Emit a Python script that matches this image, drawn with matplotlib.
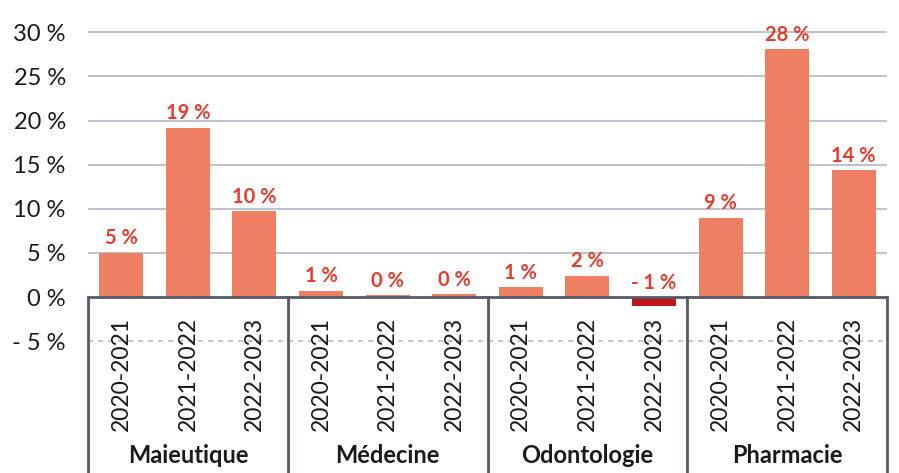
import matplotlib
matplotlib.use("Agg")
import matplotlib.pyplot as plt
import numpy as np

plt.rcParams['font.family'] = ['Lato', 'DejaVu Sans']

groups = ["Maieutique", "Médecine", "Odontologie", "Pharmacie"]
years = ["2020-2021", "2021-2022", "2022-2023"]
values = [5.0, 19.2, 9.7,
          0.7, 0.2, 0.3,
          1.1, 2.4, -1.0,
          9.0, 28.1, 14.4]
labels = ["5 %", "19 %", "10 %",
          "1 %", "0 %", "0 %",
          "1 %", "2 %", "- 1 %",
          "9 %", "28 %", "14 %"]
yticks = [-5, 0, 5, 10, 15, 20, 25, 30]
ytick_labels = ["- 5 %", "0 %", "5 %", "10 %", "15 %", "20 %", "25 %", "30 %"]

pos_color = "#ef7f63"
neg_color = "#c0161b"
lab_color = "#e63c2e"
grid_color = "#b9bdcb"
axis_color = "#545a68"

fig = plt.figure(figsize=(8.99, 4.73), dpi=100)
ax = fig.add_axes([88/899, 0, 799/899, 1])
ymin, ymax = -19.95, 33.67
ax.set_ylim(ymin, ymax)
n = len(values)
ax.set_xlim(-0.5, n - 0.5)

for t in yticks:
    if t > 0:
        ax.axhline(t, color=grid_color, lw=1.3, zorder=1)
    elif t < 0:
        ax.axhline(t, color=grid_color, lw=1.2, ls=(0, (3, 3)), zorder=1)

x = np.arange(n)
colors = [pos_color if v >= 0 else neg_color for v in values]
ax.bar(x, values, width=0.66, color=colors, zorder=2)

for xi, v, lab in zip(x, values, labels):
    ax.text(xi, max(v, 0) + 0.5, lab, ha='center', va='bottom', color=lab_color,
            fontsize=14.5, fontweight='bold', zorder=3)

ax.axhline(0, color=axis_color, lw=2, zorder=4)
span = ymax - ymin
for k in range(len(groups) + 1):
    ax.axvline(k * 3 - 0.5, ymin=0, ymax=(0 - ymin) / span, color=axis_color, lw=2, zorder=4, clip_on=False)

for i in range(n):
    ax.text(x[i], -2.3, years[i % 3], rotation=90, ha='center', va='top', fontsize=16.5, color='#1a1a1a')
for g, name in enumerate(groups):
    ax.text(g * 3 + 1, -18.0, name, ha='center', va='center', fontsize=17, fontweight='bold', color='#1a1a1a')

ax.set_yticks(yticks)
ax.set_yticklabels(ytick_labels, fontsize=17, color='#1a1a1a')
ax.tick_params(axis='y', length=0, pad=16)
ax.set_xticks([])
for s in ax.spines.values():
    s.set_visible(False)

fig.savefig("out.png", dpi=100)
